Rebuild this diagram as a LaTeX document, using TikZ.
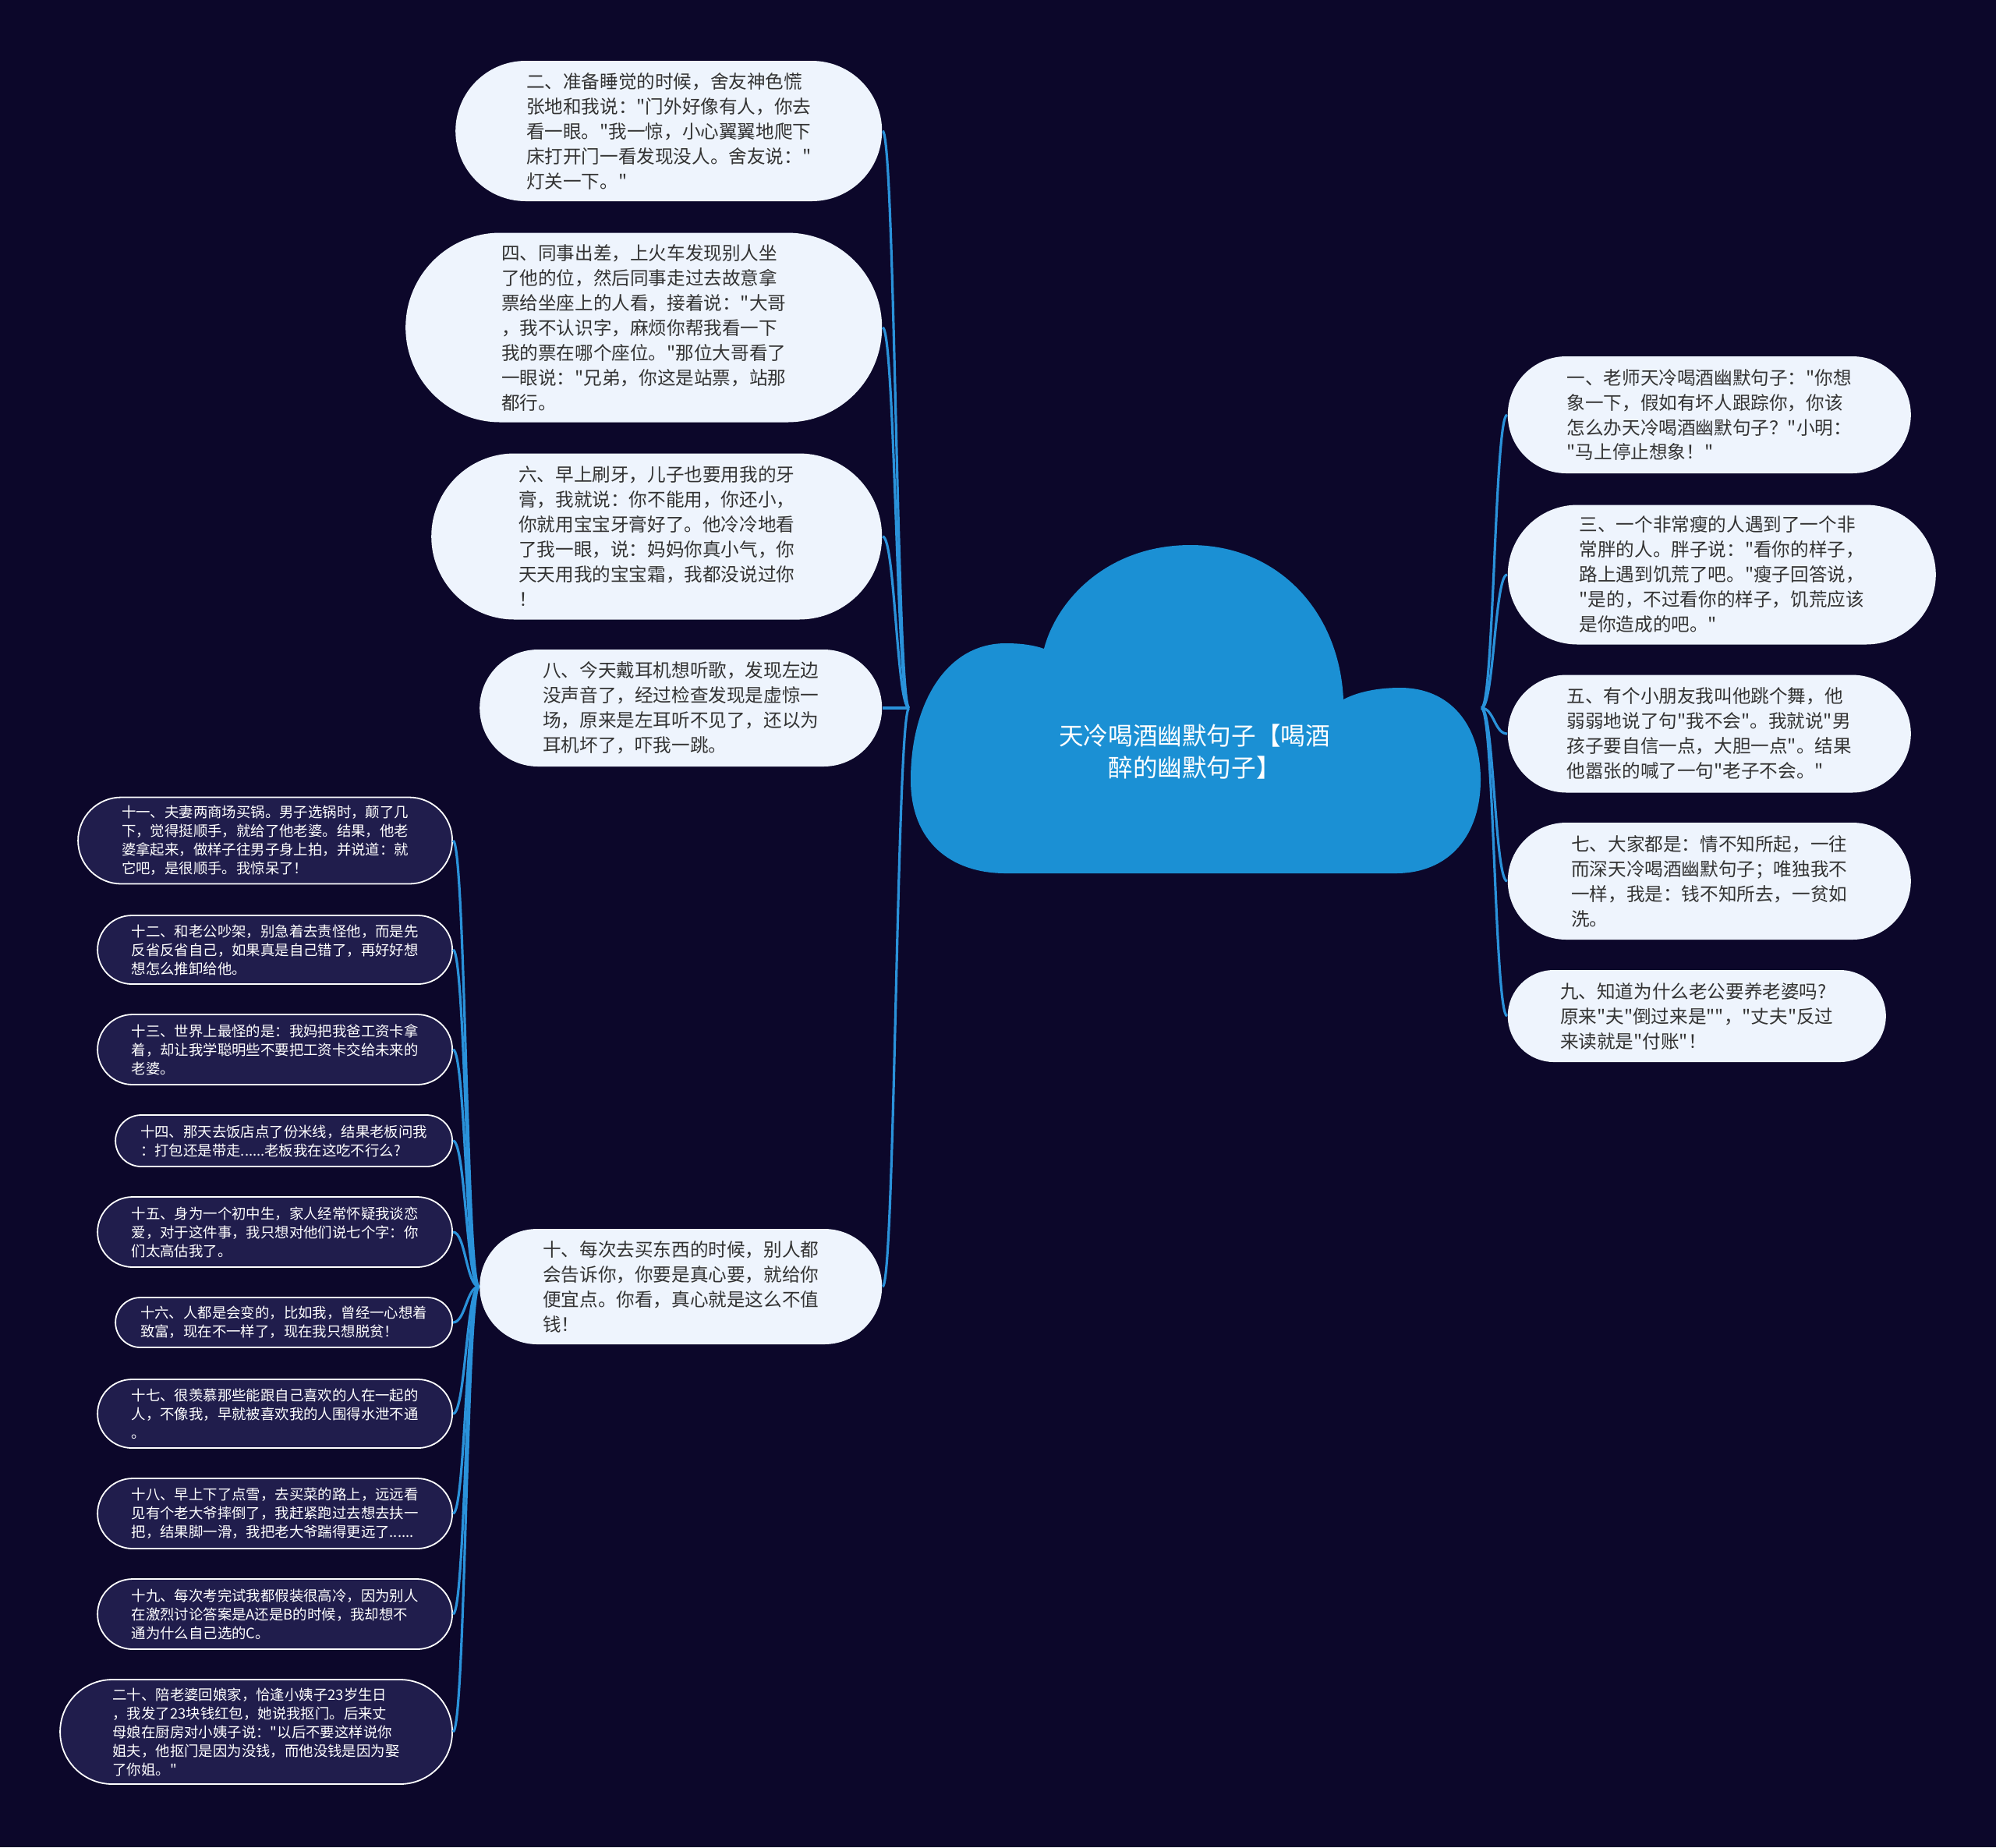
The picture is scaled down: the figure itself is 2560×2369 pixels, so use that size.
\documentclass[tikz,border=0pt]{standalone}
\usepackage{fontspec}
\setmainfont{Noto Sans CJK SC}[Ligatures=TeXOff]
\definecolor{night}{HTML}{0C072A}
\definecolor{sky}{HTML}{1B90D4}
\definecolor{wire}{HTML}{2A92DA}
\definecolor{paper}{HTML}{EEF4FD}
\definecolor{ink}{HTML}{333333}
\definecolor{plum}{HTML}{201D4C}
\usetikzlibrary{calc}

\begin{document}
\begin{tikzpicture}[x=0.25pt, y=-0.25pt,
  joke/.style 2 args={fill=paper, text=ink, align=left, inner sep=0.5pt,
                      font=\fontsize{5.9pt}{8pt}\selectfont,
                      minimum width=#1*0.25pt, minimum height=#2*0.25pt,
                      rounded corners=#2*0.125pt},
  minijoke/.style 2 args={fill=plum, draw=white, line width=0.45pt, text=white,
                      align=left, inner sep=0.5pt,
                      font=\fontsize{4.6pt}{6pt}\selectfont,
                      minimum width=#1*0.25pt, minimum height=#2*0.25pt,
                      rounded corners=#2*0.125pt},
  branch/.style={draw=wire, line width=0.8pt},
]
% background
\fill[night] (0,0) rectangle (2560,2369);

% cloud in the middle
\fill[sky] (1290,1120) -- (1790,1120)
  .. controls (1860,1120) and (1899,1070) .. (1899,1000)
  .. controls (1899,930) and (1860,882) .. (1796,882)
  .. controls (1765,882) and (1740,888) .. (1723,897)
  .. controls (1718,785) and (1640,699) .. (1527,699)
  .. controls (1420,699) and (1355,770) .. (1339,832)
  .. controls (1325,827) and (1308,825) .. (1290,825)
  .. controls (1212,825) and (1168,905) .. (1168,1000)
  .. controls (1168,1080) and (1220,1120) .. (1290,1120) -- cycle;
\node[text=white, align=center, font=\fontsize{7.9pt}{10.25pt}\selectfont] (root) at (1532,964)
  {天冷喝酒幽默句子【喝酒\\醉的幽默句子】};
\coordinate (hubL) at (1166,908);
\coordinate (hubR) at (1900,908);

% left column
\node[joke={547}{180}, anchor=east] (j2) at (1132,168) {
  二、准备睡觉的时候，舍友神色慌\\张地和我说："门外好像有人，你去\\看一眼。"我一惊，小心翼翼地爬下\\床打开门一看发现没人。舍友说："\\灯关一下。"
};
\node[joke={611}{243}, anchor=east] (j4) at (1132,420) {
  四、同事出差，上火车发现别人坐\\了他的位，然后同事走过去故意拿\\票给坐座上的人看，接着说："大哥\\，我不认识字，麻烦你帮我看一下\\我的票在哪个座位。"那位大哥看了\\一眼说："兄弟，你这是站票，站那\\都行。
};
\node[joke={578}{213}, anchor=east] (j6) at (1132,688) {
  六、早上刷牙，儿子也要用我的牙\\膏，我就说：你不能用，你还小，\\你就用宝宝牙膏好了。他冷冷地看\\了我一眼，说：妈妈你真小气，你\\天天用我的宝宝霜，我都没说过你\\！
};
\node[joke={516}{150}, anchor=east] (j8) at (1132,908) {
  八、今天戴耳机想听歌，发现左边\\没声音了，经过检查发现是虚惊一\\场，原来是左耳听不见了，还以为\\耳机坏了，吓我一跳。
};
\node[joke={516}{148}, anchor=east] (j10) at (1132,1650) {
  十、每次去买东西的时候，别人都\\会告诉你，你要是真心要，就给你\\便宜点。你看，真心就是这么不值\\钱！
};

% right column
\node[joke={517}{150}, anchor=west] (j1) at (1933,532) {
  一、老师天冷喝酒幽默句子："你想\\象一下，假如有坏人跟踪你，你该\\怎么办天冷喝酒幽默句子？"小明：\\"马上停止想象！"
};
\node[joke={549}{179}, anchor=west] (j3) at (1933,737) {
  三、一个非常瘦的人遇到了一个非\\常胖的人。胖子说："看你的样子，\\路上遇到饥荒了吧。"瘦子回答说，\\"是的，不过看你的样子，饥荒应该\\是你造成的吧。"
};
\node[joke={517}{151}, anchor=west] (j5) at (1933,941) {
  五、有个小朋友我叫他跳个舞，他\\弱弱地说了句"我不会"。我就说"男\\孩子要自信一点，大胆一点"。结果\\他嚣张的喊了一句"老子不会。"
};
\node[joke={517}{150}, anchor=west] (j7) at (1933,1130) {
  七、大家都是：情不知所起，一往\\而深天冷喝酒幽默句子；唯独我不\\一样，我是：钱不知所去，一贫如\\洗。
};
\node[joke={485}{118}, anchor=west] (j9) at (1933,1303) {
  九、知道为什么老公要养老婆吗?\\原来"夫"倒过来是""，"丈夫"反过\\来读就是"付账"！
};

% small ones under j10
\node[minijoke={480}{111}, anchor=east] (j11) at (581,1078) {
  十一、夫妻两商场买锅。男子选锅时，颠了几\\下，觉得挺顺手，就给了他老婆。结果，他老\\婆拿起来，做样子往男子身上拍，并说道：就\\它吧，是很顺手。我惊呆了！
};
\node[minijoke={455}{88}, anchor=east] (j12) at (581,1218) {
  十二、和老公吵架，别急着去责怪他，而是先\\反省反省自己，如果真是自己错了，再好好想\\想怎么推卸给他。
};
\node[minijoke={455}{90}, anchor=east] (j13) at (581,1346) {
  十三、世界上最怪的是：我妈把我爸工资卡拿\\着，却让我学聪明些不要把工资卡交给未来的\\老婆。
};
\node[minijoke={432}{66}, anchor=east] (j14) at (581,1463) {
  十四、那天去饭店点了份米线，结果老板问我\\：打包还是带走......老板我在这吃不行么?
};
\node[minijoke={455}{90}, anchor=east] (j15) at (581,1580) {
  十五、身为一个初中生，家人经常怀疑我谈恋\\爱，对于这件事，我只想对他们说七个字：你\\们太高估我了。
};
\node[minijoke={432}{64}, anchor=east] (j16) at (581,1696) {
  十六、人都是会变的，比如我，曾经一心想着\\致富，现在不一样了，现在我只想脱贫！
};
\node[minijoke={455}{88}, anchor=east] (j17) at (581,1813) {
  十七、很羡慕那些能跟自己喜欢的人在一起的\\人，不像我，早就被喜欢我的人围得水泄不通\\。
};
\node[minijoke={455}{90}, anchor=east] (j18) at (581,1941) {
  十八、早上下了点雪，去买菜的路上，远远看\\见有个老大爷摔倒了，我赶紧跑过去想去扶一\\把，结果脚一滑，我把老大爷踹得更远了......
};
\node[minijoke={455}{90}, anchor=east] (j19) at (581,2070) {
  十九、每次考完试我都假装很高冷，因为别人\\在激烈讨论答案是A还是B的时候，我却想不\\通为什么自己选的C。
};
\node[minijoke={503}{134}, anchor=east] (j20) at (581,2221) {
  二十、陪老婆回娘家，恰逢小姨子23岁生日\\，我发了23块钱红包，她说我抠门。后来丈\\母娘在厨房对小姨子说："以后不要这样说你\\姐夫，他抠门是因为没钱，而他没钱是因为娶\\了你姐。"
};

% connectors
\foreach \n in {j2,j4,j6,j8,j10}
  \draw[branch] (hubL) .. controls +(-16,0) and +(16,0) .. (\n.east);
\foreach \n in {j1,j3,j5,j7,j9}
  \draw[branch] (hubR) .. controls +(16,0) and +(-16,0) .. (\n.west);
\foreach \n in {j11,j12,j13,j14,j15,j16,j17,j18,j19,j20}
  \draw[branch] (j10.west) .. controls +(-16,0) and +(16,0) .. (\n.east);
\end{tikzpicture}
\end{document}
